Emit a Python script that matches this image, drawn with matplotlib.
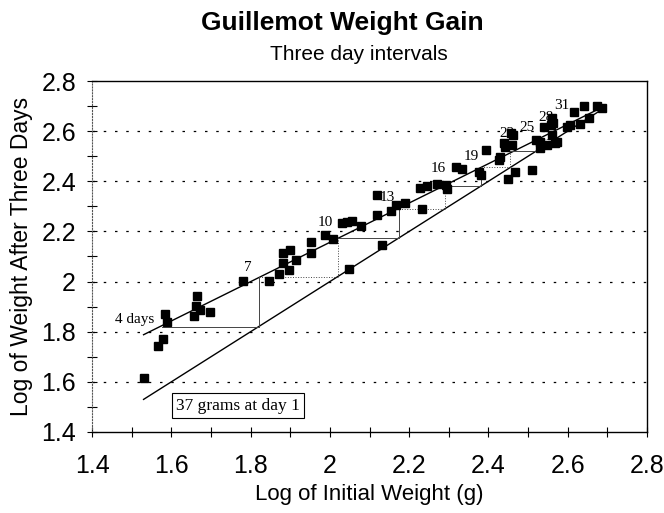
import matplotlib
matplotlib.use("Agg")
import matplotlib.pyplot as plt
import numpy as np
from matplotlib.ticker import MultipleLocator, FormatStrFormatter

# chick weights, log10 grams
init_w = [1.530, 1.567, 1.578, 1.584, 1.590, 1.656, 1.662, 1.664, 1.673, 1.698,
          1.780, 1.847, 1.872, 1.883, 1.881, 1.897, 1.900, 1.914, 1.952, 1.953,
          1.987, 2.008, 2.048, 2.030, 2.042, 2.056, 2.078, 2.119, 2.119, 2.131,
          2.153, 2.168, 2.190, 2.233, 2.228, 2.245, 2.269, 2.293, 2.296, 2.317,
          2.333, 2.376, 2.380, 2.395, 2.427, 2.430, 2.440, 2.443, 2.449, 2.456,
          2.460, 2.462, 2.468, 2.510, 2.519, 2.531, 2.531, 2.540, 2.548, 2.557,
          2.561, 2.561, 2.569, 2.573, 2.564, 2.599, 2.607, 2.615, 2.632, 2.642,
          2.653, 2.674, 2.687]
after_w = [1.617, 1.744, 1.771, 1.871, 1.837, 1.861, 1.904, 1.941, 1.888, 1.877,
           2.001, 2.004, 2.031, 2.073, 2.113, 2.047, 2.124, 2.087, 2.115, 2.157,
           2.184, 2.171, 2.051, 2.233, 2.236, 2.241, 2.221, 2.347, 2.264, 2.144,
           2.281, 2.304, 2.313, 2.291, 2.375, 2.380, 2.388, 2.384, 2.368, 2.457,
           2.451, 2.437, 2.424, 2.524, 2.484, 2.497, 2.551, 2.537, 2.408, 2.591,
           2.544, 2.584, 2.437, 2.444, 2.564, 2.531, 2.557, 2.617, 2.544, 2.624,
           2.584, 2.651, 2.551, 2.557, 2.632, 2.617, 2.624, 2.677, 2.627, 2.701,
           2.651, 2.701, 2.693]

# fitted line and 1:1 line end points
fit_x = [1.530, 2.688]
fit_y = [1.788, 2.696]
same_x = [1.530, 2.680]

# staircase (three day steps), start on fitted line
step_start = 1.577
steps = [1.82, 2.02, 2.175, 2.29, 2.38, 2.455, 2.52, 2.57]

day_labels = ['4 days', '7', '10', '13', '16', '19', '22', '25', '28', '31']
day_x = [1.557, 1.794, 1.988, 2.145, 2.274, 2.357, 2.448, 2.498, 2.544, 2.584]
day_y = [1.848, 2.056, 2.236, 2.336, 2.452, 2.500, 2.592, 2.616, 2.656, 2.704]


def main():
    fig = plt.figure(figsize=(6.64, 5.13), dpi=100)
    ax = fig.add_axes([0.1386, 0.1579, 0.8358, 0.6842])

    ax.set_xlim(1.4, 2.8)
    ax.set_ylim(1.4, 2.8)

    for yv in [1.6, 1.8, 2.0, 2.2, 2.4, 2.6]:
        ax.axhline(yv, color='black', lw=0.9, ls=(0, (2, 7)), zorder=1)

    ax.plot(fit_x, fit_y, color='black', lw=1.0, zorder=2)
    ax.plot(same_x, same_x, color='black', lw=1.0, zorder=2)

    # cobweb
    prev = step_start
    for i, s in enumerate(steps):
        ax.plot([prev, s], [s, s], color='#444444', lw=0.7,
                ls='-' if i % 2 == 0 else ':', zorder=2)
        if i + 1 < len(steps):
            ax.plot([s, s], [s, steps[i + 1]], color='#444444', lw=0.7,
                    ls='-' if i % 2 == 0 else ':', zorder=2)
        prev = s

    ax.plot(init_w, after_w, 's', color='black', ms=6.3, mec='black', zorder=3)

    for lab, xv, yv in zip(day_labels, day_x, day_y):
        ax.text(xv, yv, lab, family='Liberation Serif', fontsize=11,
                ha='right' if lab == '4 days' else 'center', va='center', zorder=4)

    ax.text(1.612, 1.505, '37 grams at day 1', family='Liberation Serif',
            fontsize=12.5, ha='left', va='center',
            bbox=dict(boxstyle='square,pad=0.25', fc='white', ec='black', lw=0.8))

    ax.xaxis.set_major_locator(MultipleLocator(0.2))
    ax.yaxis.set_major_locator(MultipleLocator(0.2))
    ax.xaxis.set_minor_locator(MultipleLocator(0.1))
    ax.yaxis.set_minor_locator(MultipleLocator(0.1))
    ax.xaxis.set_major_formatter(FormatStrFormatter('%g'))
    ax.yaxis.set_major_formatter(FormatStrFormatter('%g'))
    ax.tick_params(which='both', direction='inout', length=7, width=0.8,
                   labelsize=18, pad=8)
    ax.tick_params(axis='x', pad=12)

    ax.spines['left'].set_linestyle(':')
    ax.spines['left'].set_color('#555555')
    for sp in ['top', 'right', 'bottom']:
        ax.spines[sp].set_linewidth(1.0)

    ax.set_xlabel('Log of Initial Weight (g)', fontsize=16, labelpad=5)
    ax.set_ylabel('Log of Weight After Three Days', fontsize=16.5, labelpad=6)

    fig.text(0.515, 1 - 23 / 513, 'Guillemot Weight Gain', fontsize=19,
             fontweight='bold', ha='center', va='center')
    fig.text(0.54, 1 - 55 / 513, 'Three day intervals', fontsize=15,
             ha='center', va='center')

    fig.savefig('out.png', dpi=100)


if __name__ == '__main__':
    plt.rcParams['font.family'] = ['Liberation Sans', 'DejaVu Sans']
    main()
